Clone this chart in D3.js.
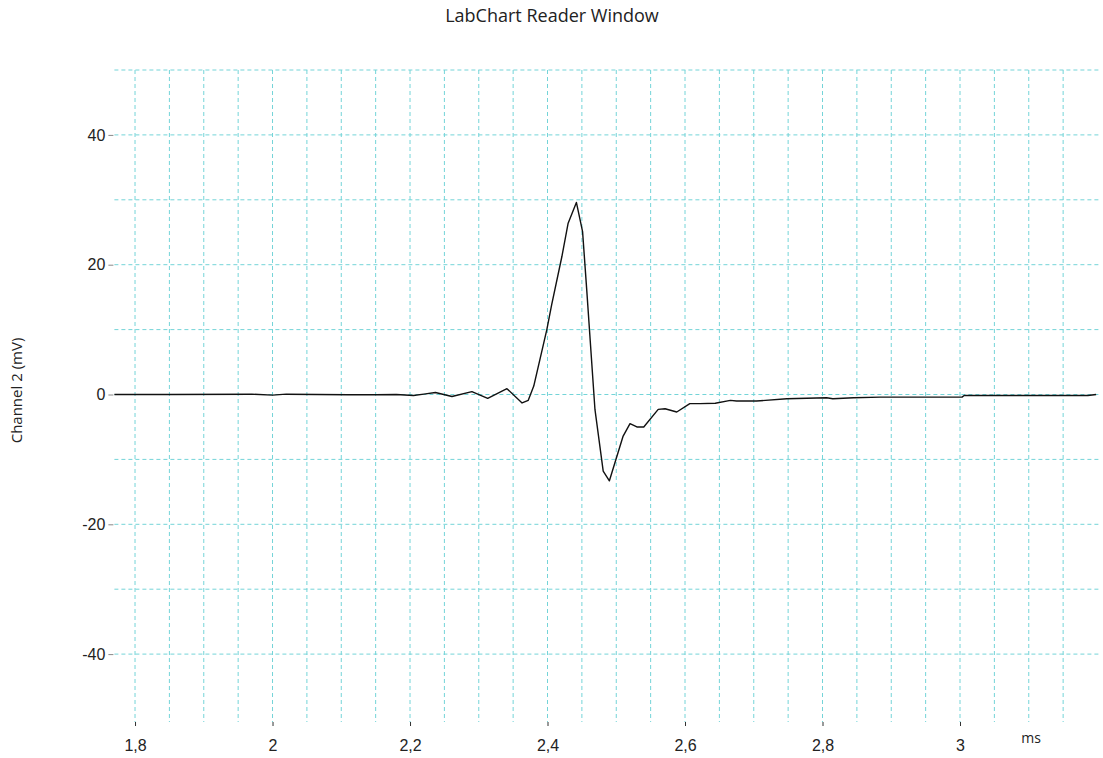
<!DOCTYPE html>
<html>
<head>
<meta charset="utf-8">
<script src="https://cdn.jsdelivr.net/npm/d3@7"></script>
<style>
  body { margin: 0; background: #fff; }
  svg { display: block; font-family: "Open Sans", "Noto Sans", sans-serif; }
</style>
</head>
<body>
<svg id="chart" width="1103" height="758"></svg>
<script>
const timeMs = [1.77, 1.85, 1.97, 2.0, 2.02, 2.065, 2.11, 2.15, 2.18, 2.205, 2.22, 2.237, 2.261, 2.29, 2.313,
  2.341, 2.363, 2.372, 2.38, 2.399, 2.406, 2.421, 2.43, 2.442, 2.451, 2.457, 2.469, 2.481, 2.49, 2.51,
  2.52, 2.53, 2.54, 2.561, 2.571, 2.588, 2.607, 2.622, 2.644, 2.666, 2.675, 2.704, 2.748, 2.806, 2.815,
  2.845, 2.884, 3.003, 3.006, 3.186, 3.198];
const channel2 = [0.0, 0.0, 0.05, -0.1, 0.05, 0.0, -0.05, -0.05, 0.0, -0.15, 0.05, 0.3, -0.3, 0.45, -0.6,
  0.9, -1.3, -0.9, 1.3, 10, 13.8, 21.3, 26.4, 29.6, 25.1, 16.2, -2.3, -11.8, -13.3, -6.4,
  -4.5, -5, -5, -2.3, -2.2, -2.7, -1.4, -1.4, -1.35, -0.9, -1.0, -1.0, -0.65, -0.5, -0.65,
  -0.5, -0.4, -0.4, -0.15, -0.15, 0.0];

const xTicks = [1.8, 2, 2.2, 2.4, 2.6, 2.8, 3];
const xGrid = d3.range(36, 64).map(i => i * 0.05);   // 1.8 .. 3.15
const yTicks = [-40, -20, 0, 20, 40];
const yGrid = [-40, -30, -20, -10, 0, 10, 20, 30, 40, 50];

const W = 1103, H = 758;
const MARGIN = { top: 70, right: 5.5, bottom: 39, left: 114.4 };
const GRID = '#74d4d8';

const svg = d3.select('#chart');

const x = d3.scaleLinear().domain([1.77, 3.2]).range([MARGIN.left, W - MARGIN.right]);
const y = d3.scaleLinear().domain([-50, 50]).range([H - MARGIN.bottom, MARGIN.top]);
// LabChart style: decimal comma, plain hyphen for minus
const fmt = d => String(d).replace('.', ',');

// grid
svg.append('g')
  .selectAll('line')
  .data(xGrid)
  .join('line')
  .attr('x1', d => x(d)).attr('x2', d => x(d))
  .attr('y1', y(50)).attr('y2', y(-50) + 3)
  .attr('stroke', GRID)
  .attr('stroke-dasharray', '4,3');

svg.append('g')
  .selectAll('line')
  .data(yGrid)
  .join('line')
  .attr('x1', x.range()[0]).attr('x2', W - 2)
  .attr('y1', d => y(d)).attr('y2', d => y(d))
  .attr('stroke', GRID)
  .attr('stroke-dasharray', '4,3');

// axes
const gx = svg.append('g')
  .attr('transform', `translate(0, ${y(-50) + 3})`)
  .call(d3.axisBottom(x).tickValues(xTicks).tickFormat(fmt).tickSize(4).tickPadding(14));
gx.select('.domain').remove();
gx.selectAll('line').attr('stroke', '#333');
gx.selectAll('text').attr('font-size', 16).attr('fill', '#222');

const gy = svg.append('g')
  .attr('transform', `translate(${x.range()[0] - 1}, 0)`)
  .call(d3.axisLeft(y).tickValues(yTicks).tickFormat(fmt).tickSize(5).tickPadding(3));
gy.select('.domain').remove();
gy.selectAll('line').attr('stroke', '#888');
gy.selectAll('text').attr('font-size', 16).attr('fill', '#222');

// trace
const pts = timeMs.map((t, i) => [t, channel2[i]]);
svg.append('path')
  .datum(pts)
  .attr('fill', 'none')
  .attr('stroke', '#111')
  .attr('stroke-width', 1.4)
  .attr('stroke-linejoin', 'round')
  .attr('d', d3.line().x(d => x(d[0])).y(d => y(d[1])));

// labels
svg.append('text')
  .attr('x', 552).attr('y', 22)
  .attr('text-anchor', 'middle')
  .attr('font-size', 18)
  .attr('fill', '#222')
  .text('LabChart Reader Window');

svg.append('text')
  .attr('transform', `translate(22, ${y(0) - 4}) rotate(-90)`)
  .attr('text-anchor', 'middle')
  .attr('font-size', 15)
  .attr('fill', '#222')
  .text('Channel 2 (mV)');

svg.append('text')
  .attr('x', 1031).attr('y', 743)
  .attr('text-anchor', 'middle')
  .attr('font-size', 14)
  .attr('fill', '#222')
  .text('ms');
</script>
</body>
</html>
